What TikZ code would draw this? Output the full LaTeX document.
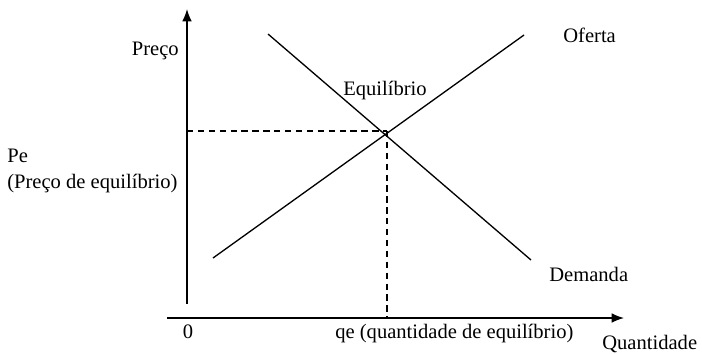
\documentclass[tikz,border=0pt]{standalone}
\usepackage{fontspec}
\setmainfont{Liberation Serif}
\usetikzlibrary{arrows.meta,calc}
\tikzset{axis/.style={line width=0.8pt,-{Latex[length=7pt,width=5.5pt]}},
  curve/.style={line width=0.75pt},
  guide/.style={line width=0.8pt,dash pattern=on 3.6pt off 2.6pt},
  lbl/.style={inner sep=0pt,anchor=#1}}
\begin{document}
\begin{tikzpicture}[x=0.02cm,y=-0.02cm,font=\fontsize{11.7}{13}\selectfont]
    \useasboundingbox (0,0) rectangle (702,353);
    % axes
    \coordinate (ybot) at (187,304);
    \coordinate (ytop) at (187,9);
    \coordinate (xl) at (167,318);
    \coordinate (xr) at (624,318);
    \draw[axis] (ybot)--(ytop);
    \draw[axis] (xl)--(xr);
    % curves
    \coordinate (eq) at (387,131);
    \coordinate (s1) at (213,258);
    \coordinate (s2) at (524,35);
    \coordinate (d1) at (268,34);
    \coordinate (d2) at (531,260);
    \draw[curve] (s1)--(s2);
    \draw[curve] (d1)--(d2);
    % guides
    \coordinate (pe) at (187,131);
    \coordinate (qe) at (387,318);
    \draw[guide] (pe)--(eq);
    \draw[guide] (eq)--(qe);
    % labels
    \node[lbl=base east] (preco) at (179,55) {Preço};
    \node[lbl=base west] (pelbl) at (7,162) {Pe};
    \node[lbl=base west] (pedesc) at (7,188) {(Preço de equilíbrio)};
    \node[lbl=base west] (equil) at (343,95) {Equilíbrio};
    \node[lbl=base west] (oferta) at (563,42) {Oferta};
    \node[lbl=base west] (demanda) at (549,281) {Demanda};
    \node[lbl=base] (zero) at (188,338) {0};
    \node[lbl=base west] (qelbl) at (335,338) {qe (quantidade de equilíbrio)};
    \node[lbl=base west] (quant) at (602,349) {Quantidade};
  \end{tikzpicture}
\end{document}
